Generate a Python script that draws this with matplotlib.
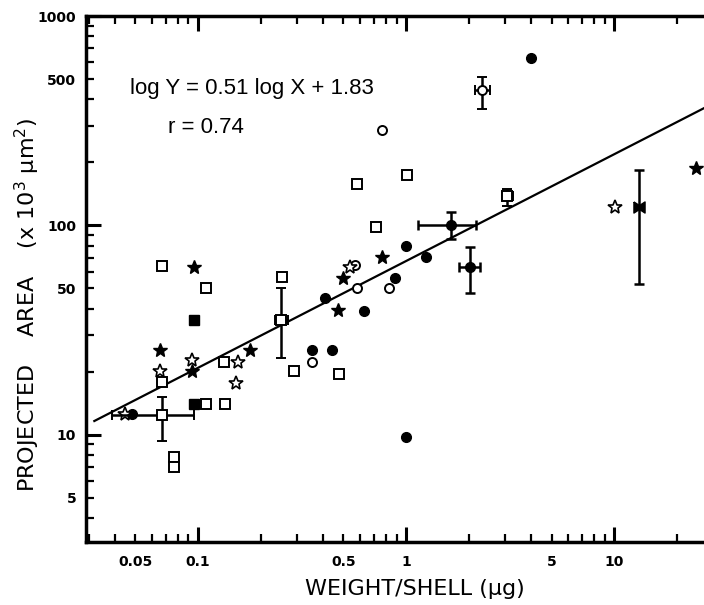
import matplotlib
matplotlib.use("Agg")
import matplotlib.pyplot as plt
from matplotlib.ticker import LogLocator, FuncFormatter
import numpy as np

# --- datos ---
circ_llenos_x = [0.048, 0.41, 1.0, 1.24, 0.88, 0.627, 0.355, 0.44, 4.0, 1.0]
circ_llenos_y = [12.6, 45, 80, 71, 56, 39, 25.3, 25.4, 630, 9.8]

# circulos llenos con barras de error
circ_err_x = [1.64, 2.03]
circ_err_y = [100, 63]
circ_err_xlo = [1.14, 1.79]
circ_err_xhi = [2.17, 2.27]
circ_err_ylo = [85.7, 47.6]
circ_err_yhi = [116, 79]

circ_vacios_x = [0.58, 0.569, 0.355, 0.826, 0.764]
circ_vacios_y = [50, 65, 22.3, 50, 286]

# circulo vacio con barras de error
cv_err_x = [2.31]
cv_err_y = [443]
cv_err_xlo = [2.14]
cv_err_xhi = [2.53]
cv_err_ylo = [359]
cv_err_yhi = [509]

cuad_vacios_x = [0.0674, 0.109, 0.2535, 0.134, 0.109, 0.135, 0.067, 0.077, 0.077,
                 0.29, 0.475, 0.717, 0.582, 1.01]
cuad_vacios_y = [64, 50, 57, 22.2, 14.0, 14.0, 17.8, 7.85, 7.05,
                 20.2, 19.6, 98.6, 157, 175]

# cuadrados vacios con barras de error
cuad_err_x = [0.067, 0.252, 3.07]
cuad_err_y = [12.4, 35.4, 138]
cuad_err_xlo = [0.0385, 0.234, 2.89]
cuad_err_xhi = [0.096, 0.272, 3.28]
cuad_err_ylo = [9.33, 23.3, 124]
cuad_err_yhi = [15.2, 50.3, 149]

cuad_llenos_x = [0.0953, 0.0953]
cuad_llenos_y = [35.5, 14.1]

estr_llenas_x = [0.0957, 0.066, 0.094, 0.178, 0.496, 0.764, 0.473, 24.6]
estr_llenas_y = [63, 25.5, 20.1, 25.3, 56, 71, 39.4, 189]

# marcador tipo "lazo" con barra de error
lazo_x = [13.2]
lazo_y = [122]
lazo_ylo = [52.6]
lazo_yhi = [184]

estr_vacias_x = [0.0448, 0.066, 0.094, 0.156, 0.153, 0.538, 10.1]
estr_vacias_y = [12.6, 20.1, 22.9, 22.2, 17.7, 63.4, 122]

# recta de regresion: log Y = 0.51 log X + 1.83
pendiente = 0.51
ordenada = 1.83
recta_x = np.array([0.0318, 27.0])

etiquetas_x = [0.05, 0.1, 0.5, 1, 5, 10]
etiquetas_y = [5, 10, 50, 100, 500, 1000]


def errores(v, lo, hi):
	v = np.array(v)
	return [v - np.array(lo), np.array(hi) - v]


fig = plt.figure(figsize=(7.04, 6.05), dpi=100)
ax = fig.add_axes([86 / 704, 63 / 605, 1 - 86 / 704, 526 / 605])
ax.set_xscale('log')
ax.set_yscale('log')
ax.set_xlim(0.029, 27)
ax.set_ylim(3.08, 1000)

# recta
ax.plot(recta_x, 10 ** (pendiente * np.log10(recta_x) + ordenada), color='black', lw=1.6, zorder=2)

ms = 7
ax.plot(circ_llenos_x, circ_llenos_y, 'o', color='black', ms=ms, zorder=3)
ax.plot(circ_vacios_x, circ_vacios_y, 'o', mfc='white', mec='black', mew=1.4, ms=6.5, zorder=3)
ax.plot(cuad_vacios_x, cuad_vacios_y, 's', mfc='white', mec='black', mew=1.4, ms=6.5, zorder=3)
ax.plot(cuad_llenos_x, cuad_llenos_y, 's', color='black', ms=6.5, zorder=3)
ax.plot(estr_llenas_x, estr_llenas_y, '*', color='black', ms=10, zorder=3)
ax.plot(estr_vacias_x, estr_vacias_y, '*', mfc='white', mec='black', mew=1.2, ms=10, zorder=3)

kw = dict(ecolor='black', elinewidth=1.8, capsize=3.5, capthick=1.8, zorder=3)
ax.errorbar(circ_err_x, circ_err_y, xerr=errores(circ_err_x, circ_err_xlo, circ_err_xhi),
            yerr=errores(circ_err_y, circ_err_ylo, circ_err_yhi),
            fmt='o', color='black', ms=ms, **kw)
ax.errorbar(cv_err_x, cv_err_y, xerr=errores(cv_err_x, cv_err_xlo, cv_err_xhi),
            yerr=errores(cv_err_y, cv_err_ylo, cv_err_yhi),
            fmt='o', mfc='white', mec='black', mew=1.4, ms=6.5, **kw)
ax.errorbar(cuad_err_x, cuad_err_y, xerr=errores(cuad_err_x, cuad_err_xlo, cuad_err_xhi),
            yerr=errores(cuad_err_y, cuad_err_ylo, cuad_err_yhi),
            fmt='s', mfc='white', mec='black', mew=1.4, ms=6.5, **kw)
lazo = [(-1, 1), (0, 0.35), (1, 1), (1, -1), (0, -0.35), (-1, -1), (-1, 1)]
ax.errorbar(lazo_x, lazo_y, yerr=errores(lazo_y, lazo_ylo, lazo_yhi),
            fmt='none', **kw)
ax.plot(lazo_x, lazo_y, marker=lazo, color='black', ms=8, ls='none', zorder=4)

# textos
ax.text(0.0471, 453, 'log Y = 0.51 log X + 1.83', fontsize=16, family='Liberation Sans',
        va='center', ha='left')
ax.text(0.0718, 294, 'r = 0.74', fontsize=16, family='Liberation Sans', va='center', ha='left')

# ejes
for lado in ['left', 'bottom', 'top']:
	ax.spines[lado].set_linewidth(2.5)
ax.spines['right'].set_visible(False)

ax.xaxis.set_major_locator(LogLocator(base=10, subs=[1.0]))
ax.yaxis.set_major_locator(LogLocator(base=10, subs=[1.0]))
ax.xaxis.set_minor_locator(LogLocator(base=10, subs=np.arange(2, 10)))
ax.yaxis.set_minor_locator(LogLocator(base=10, subs=np.arange(2, 10)))

def fmt_etiqueta(v, pos):
	for e in etiquetas_x + etiquetas_y:
		if abs(v - e) / e < 1e-6:
			return '%g' % v
	return ''

for eje in [ax.xaxis, ax.yaxis]:
	eje.set_major_formatter(FuncFormatter(fmt_etiqueta))
	eje.set_minor_formatter(FuncFormatter(fmt_etiqueta))

ax.tick_params(which='both', direction='in', top=True, right=False)
ax.tick_params(which='major', length=11, width=2.2)
ax.tick_params(which='minor', length=6, width=1.6)
ax.tick_params(axis='x', which='both', pad=9, labelsize=10)
ax.tick_params(axis='y', which='both', pad=7, labelsize=10)
for t in ax.get_xticklabels(which='both') + ax.get_yticklabels(which='both'):
	t.set_fontweight('bold')

ax.set_xlabel('WEIGHT/SHELL (μg)', fontsize=16)
ax.set_ylabel('PROJECTED    AREA    (x 10$^3$ μm$^2$)', fontsize=16)
ax.xaxis.set_label_coords((415 - 86) / 618, -0.07)
ax.yaxis.set_label_coords((42 - 86) / 618, 0.45)

plt.savefig('out.png', dpi=100)
